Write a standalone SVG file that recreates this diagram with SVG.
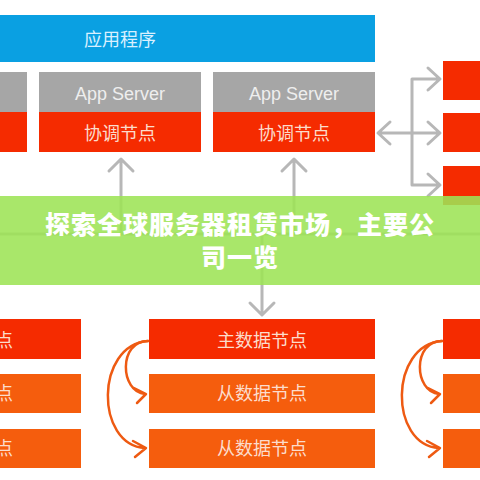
<svg xmlns="http://www.w3.org/2000/svg" width="480" height="480" viewBox="0 0 480 480">
<defs>
<style>
.cn{font-family:"Noto Sans CJK SC","Noto Sans",sans-serif;font-size:18px;text-anchor:middle}
.en{font-family:"Liberation Sans",Arial,sans-serif;font-size:18px;text-anchor:middle;fill:#eeeeee}
.red{fill:#f52b00}
.org{fill:#f55d0d}
.gray{fill:#a6a6a6}
.lt{fill:#fcdccc}
.gc{fill:none;stroke:#b7b7b7;stroke-width:3;stroke-linecap:round;stroke-linejoin:round}
.oc{fill:none;stroke:#ee5a12;stroke-width:2.5;stroke-linecap:round;stroke-linejoin:round}
.bn{font-family:"Noto Sans CJK SC","Noto Sans",sans-serif;font-size:25px;font-weight:900;fill:#ffffff;text-anchor:middle;letter-spacing:1px}
</style>
</defs>
<rect width="480" height="480" fill="#ffffff"/>
<g id="app">
<rect x="0" y="15" width="375" height="47" fill="#0aa0e2"/>
<text class="cn" x="120" y="45.5" fill="#d9f0ff">应用程序</text>
</g>
<g id="server1">
<rect x="-135" y="72" width="162" height="40" class="gray"/>
<rect x="-135" y="112" width="162" height="40" class="red"/>
</g>
<g id="server2">
<rect x="39" y="72" width="162" height="40" class="gray"/>
<rect x="39" y="112" width="162" height="40" class="red"/>
<text class="en" x="120" y="100">App Server</text>
<text class="cn lt" x="120" y="139.5">协调节点</text>
</g>
<g id="server3">
<rect x="213" y="72" width="162" height="40" class="gray"/>
<rect x="213" y="112" width="162" height="40" class="red"/>
<text class="en" x="294" y="100">App Server</text>
<text class="cn lt" x="294" y="139.5">协调节点</text>
</g>
<g id="right-nodes">
<rect x="443" y="61" width="60" height="39" class="red"/>
<rect x="443" y="113" width="60" height="39" class="red"/>
<rect x="443" y="166" width="60" height="39" class="red"/>
</g>
<g id="shard-left">
<rect x="-145" y="319" width="226" height="40" class="red"/>
<rect x="-145" y="374" width="226" height="39" class="org"/>
<rect x="-145" y="429" width="226" height="39" class="org"/>
<text class="cn lt" x="-32" y="346.5">主数据节点</text>
<text class="cn lt" x="-32" y="400">从数据节点</text>
<text class="cn lt" x="-32" y="455">从数据节点</text>
</g>
<g id="shard-mid">
<rect x="149" y="319" width="226" height="40" class="red"/>
<rect x="149" y="374" width="226" height="39" class="org"/>
<rect x="149" y="429" width="226" height="39" class="org"/>
<text class="cn lt" x="262" y="346.5">主数据节点</text>
<text class="cn lt" x="262" y="400">从数据节点</text>
<text class="cn lt" x="262" y="455">从数据节点</text>
</g>
<g id="shard-right">
<rect x="443" y="319" width="226" height="40" class="red"/>
<rect x="443" y="374" width="226" height="39" class="org"/>
<rect x="443" y="429" width="226" height="39" class="org"/>
</g>
<g id="connectors">
<path class="gc" d="M121 160V234M109 171L121 159L133 171"/>
<path class="gc" d="M294 160V234M282 171L294 159L306 171"/>
<path class="gc" d="M0 234H480"/>
<path class="gc" d="M262 234V314M250 303L262 315L274 303"/>
<path class="gc" d="M412 79V185M412 79H439M412 185H439M379 133H439M428 68L440 79L428 90M428 122L440 133L428 144M428 174L440 185L428 196M390 122L378 133L390 144"/>
<path class="oc" d="M148 341C118 341 120 392 145 394M134 388L146 394L137 403"/>
<path class="oc" d="M148 341C95 345 95 445 145 448M133 441L146 448L135 457"/>
<path class="oc" d="M442 341C412 341 414 392 439 394M428 388L440 394L431 403"/>
<path class="oc" d="M442 341C389 345 389 445 439 448M427 441L440 448L429 457"/>
</g>
<g id="banner">
<rect x="0" y="196" width="480" height="89" fill="#9de455" fill-opacity="0.88"/>
<text class="bn" x="240" y="234">探索全球服务器租赁市场，主要公</text>
<text class="bn" x="240" y="267">司一览</text>
</g>
</svg>
